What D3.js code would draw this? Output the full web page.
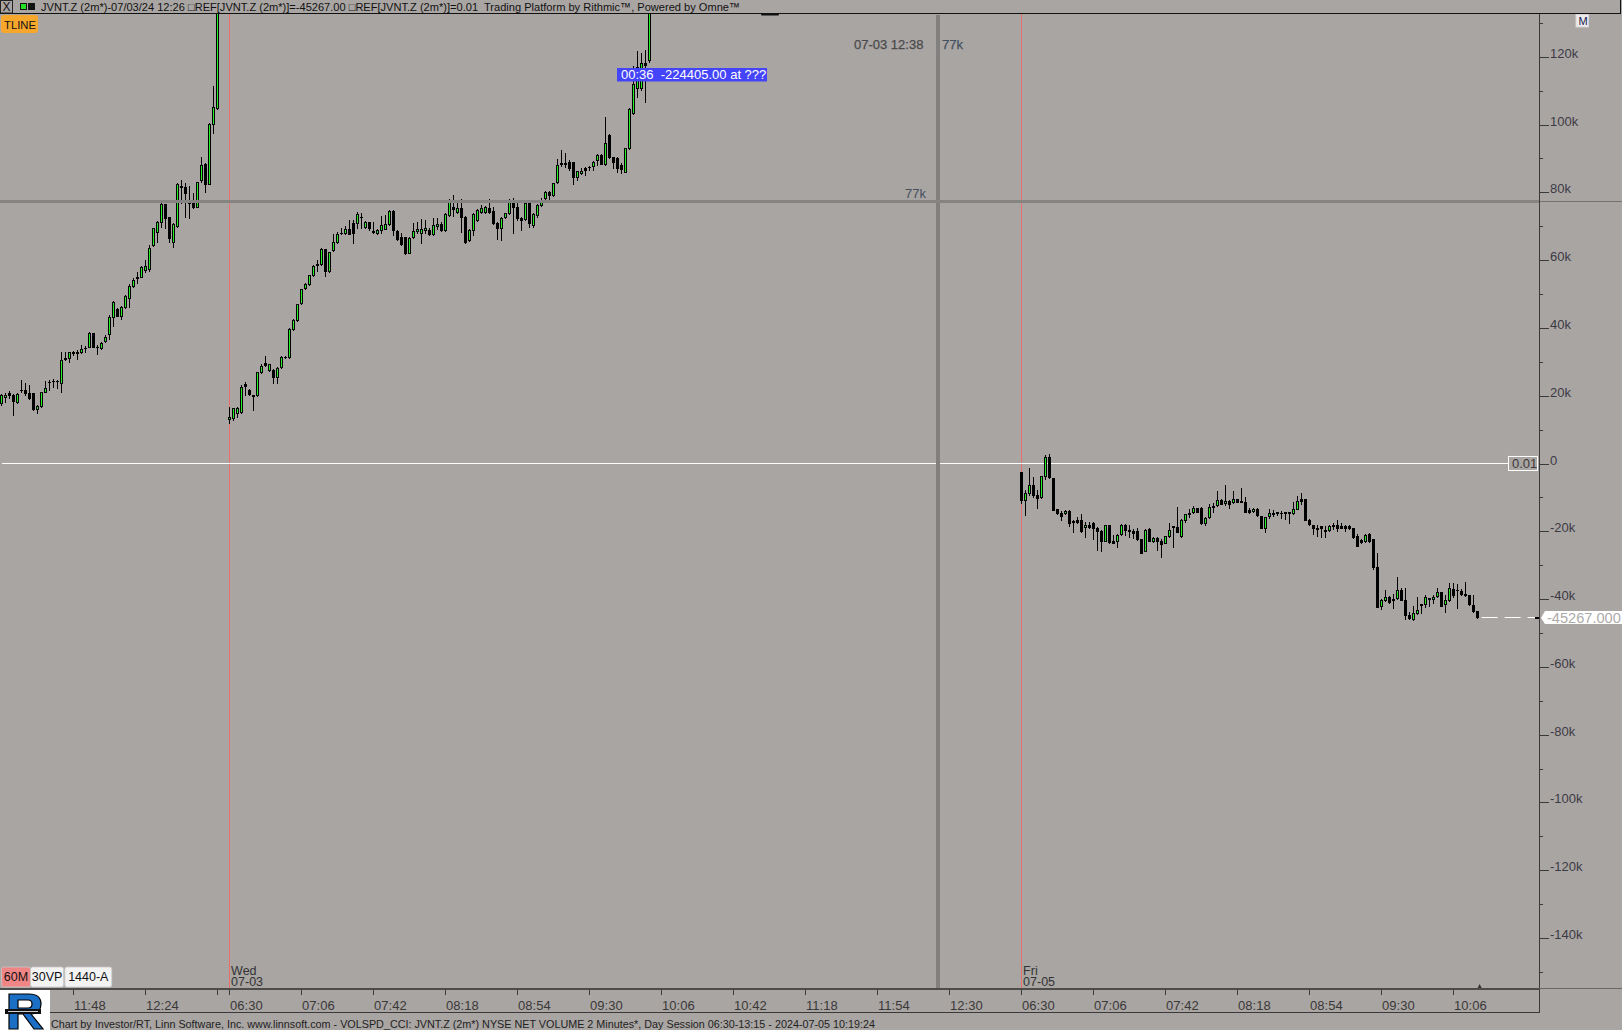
<!DOCTYPE html>
<html><head><meta charset="utf-8">
<script src="https://cdn.jsdelivr.net/npm/d3@7"></script>
<style>
html,body{margin:0;padding:0;background:#a9a5a3;overflow:hidden}
svg{display:block}
text{font-family:"Liberation Sans",Arial,sans-serif;white-space:pre}
</style></head><body>
<svg id="c" width="1622" height="1030"></svg>
<script>
// ---------- DATA (values in thousands) ----------
const sessionDays = ["07-02", "07-03", "07-05"];
const sessionOpen = "06:30";
const slotsPerSession = 198;      // 2-minute slots per session

// Tue 07-02, first visible bar 11:12  [open, high, low, close]
const tueStart = "11:12";
const tueBars = [
[17.8,20.4,17.3,20.2],[19.5,20.7,18.2,20.2],[20.7,21.4,19.2,20.2],[20.2,20.4,14.3,18.5],[18.2,20.7,17.9,20.5],
[21.7,24.6,21.2,21.6],[21.7,23.7,20.2,20.9],[20.7,23.2,18.9,19.2],[20.7,20.9,15.8,16.0],[16.0,17.3,14.8,17.0],
[17.0,21.2,16.8,21.0],[21.2,24.4,21.0,22.4],[24.0,24.6,21.7,24.1],[24.2,24.8,22.7,24.3],[24.3,24.6,22.2,24.4],
[23.9,33.0,21.2,30.5],[31.0,33.0,30.5,30.7],[31.2,33.0,30.0,32.8],[32.8,33.3,32.0,32.5],[32.8,33.5,30.7,32.7],
[32.8,34.9,32.5,33.7],[34.2,34.7,33.0,34.1],[34.5,38.9,34.3,38.4],[38.4,38.6,34.3,34.5],[34.5,34.9,32.3,34.4],
[34.2,35.9,33.8,35.7],[36.2,37.9,35.9,37.4],[38.1,43.8,36.7,43.3],[43.3,47.9,40.7,47.7],[45.6,45.8,43.4,43.6],
[43.6,46.6,42.6,46.3],[46.3,49.7,46.0,49.4],[48.7,53.1,46.3,52.4],[52.4,54.6,52.2,54.1],[54.8,56.4,53.4,54.9],
[55.1,58.4,54.9,58.1],[57.1,60.0,56.6,58.3],[57.3,64.5,56.8,63.5],[64.5,69.6,64.2,69.4],[68.4,71.5,65.4,71.3],
[71.3,77.0,69.9,76.5],[76.5,76.7,69.4,72.3],[72.6,72.8,65.4,66.6],[65.4,70.9,63.8,70.7],[70.2,82.8,69.9,82.6],
[81.8,83.6,76.8,81.5],[81.7,82.8,72.8,79.7],[77.7,81.9,72.3,76.8],[77.7,79.7,75.3,75.8],[75.8,83.1,75.6,83.1],
[83.6,90.5,83.1,88.1],[88.4,88.6,80.2,82.6],[82.6,100.5,82.4,100.2],[100.3,111.4,97.6,105.1],[104.8,150,104.5,145]
];

// Wed 07-03 from 06:30
const wedStart = "06:30";
const wedBars = [
[13.0,16.6,12.0,13.8],[13.3,16.3,12.8,16.3],[14.8,16.6,13.6,16.3],[15.1,23.2,14.8,22.7],[23.5,24.1,20.2,22.9],
[21.7,21.9,20.2,20.4],[20.1,20.1,15.8,19.9],[20.1,27.1,19.9,26.9],[27.1,29.5,26.8,28.9],[29.7,31.7,28.8,29.2],
[27.6,29.5,27.2,29.3],[27.6,27.8,23.8,25.4],[25.6,28.6,23.8,28.1],[28.4,31.7,28.1,31.5],[31.5,31.7,31.2,31.4],
[31.3,39.9,31.1,39.7],[39.7,42.7,39.4,42.4],[42.2,47.2,42.0,47.0],[47.4,51.6,47.2,51.4],[51.7,53.3,51.4,52.9],
[52.9,55.7,52.6,55.5],[55.6,58.5,55.4,58.2],[58.9,60.0,56.9,58.7],[58.8,63.6,58.6,63.4],[63.3,63.4,55.4,56.8],
[56.7,62.5,56.5,62.3],[62.9,67.7,62.7,65.4],[65.4,68.4,65.2,67.7],[67.9,69.4,67.7,67.9],[67.9,70.0,67.7,69.1],
[69.2,71.8,67.7,67.7],[71.0,71.8,65.1,68.0],[71.1,74.1,69.4,73.5],[72.8,74.0,69.4,72.6],[69.9,71.5,69.4,71.2],
[71.3,71.3,68.9,69.4],[68.7,71.3,67.9,68.2],[67.9,69.1,67.7,68.8],[68.9,73.0,67.9,70.4],[69.3,73.3,69.1,70.6],
[70.6,74.8,70.4,74.5],[74.5,74.8,67.4,68.9],[68.7,68.9,65.9,66.1],[66.9,67.9,64.4,64.9],[66.7,66.7,61.8,62.0],
[62.2,66.7,62.0,66.6],[66.7,71.0,66.4,68.6],[68.7,71.3,67.9,69.1],[68.1,72.0,65.1,69.1],[68.9,71.8,67.9,69.4],
[68.9,69.4,67.4,67.6],[67.6,72.3,67.4,70.5],[70.2,72.3,69.1,70.8],[70.8,71.3,68.7,68.9],[68.9,73.8,68.7,73.5],
[73.3,77.9,73.0,77.7],[75.6,79.2,73.0,75.0],[74.1,77.7,73.8,75.3],[75.3,77.9,68.4,72.8],[72.8,73.0,65.1,65.4],
[65.9,69.1,65.7,68.9],[68.9,73.8,67.4,73.5],[71.8,75.0,71.6,74.8],[74.1,76.3,73.8,75.3],[74.1,76.0,73.8,75.8],
[75.3,77.9,73.8,74.1],[74.6,75.8,70.8,71.0],[71.0,71.3,66.1,69.4],[69.4,72.6,65.9,72.3],[72.6,74.0,72.3,73.8],
[73.8,77.9,73.5,77.1],[77.7,78.2,67.9,75.6],[75.6,76.8,71.8,72.3],[72.3,72.8,68.9,71.8],[72.0,77.2,71.8,77.0],
[76.8,77.0,69.9,71.0],[70.4,73.8,69.9,73.6],[73.3,76.6,72.8,76.3],[76.3,78.3,76.0,77.3],[78.4,80.3,78.0,80.1],
[80.2,80.5,78.0,79.2],[79.2,82.8,78.9,82.7],[83.1,89.7,82.8,88.1],[88.7,92.5,87.9,88.3],[88.6,91.7,87.6,88.5],
[88.9,89.5,86.6,87.1],[88.9,89.0,82.4,84.6],[84.6,86.4,83.6,86.2],[85.8,87.1,85.4,86.4],[87.1,87.6,85.1,86.6],
[87.6,87.8,86.6,87.4],[87.9,89.3,86.6,89.0],[89.5,91.3,88.1,91.0],[91.0,91.3,88.3,88.4],[88.4,102.1,88.1,94.5],
[96.9,97.1,90.0,90.3],[90.3,90.5,87.1,89.0],[90.0,90.3,86.1,87.1],[88.2,88.6,85.6,87.0],[86.1,93.2,85.9,93.0],
[93.0,104.8,92.7,104.5],[103.3,117.3,103.1,112.1],[110.7,121.8,108.2,117.1],[110.7,121.0,110.2,118.3],[118.3,122.0,106.7,117.5],
[119.0,160,118.5,155]
];

// Fri 07-05 from 06:30
const friStart = "06:30";
const friBars = [
[-2.5,-2.5,-11.6,-10.8],[-10.8,-7.8,-15.2,-8.8],[-8.8,-1.4,-9.3,-6.3],[-6.3,-4.1,-9.8,-9.3],[-9.3,-7.8,-13.2,-10.1],
[-10.0,-3.7,-10.3,-3.7],[-3.7,2.5,-4.7,1.8],[1.8,2.8,-4.4,-4.1],[-4.4,-4.4,-13.7,-13.7],[-13.5,-13.5,-14.9,-14.7],
[-14.7,-14.0,-16.7,-15.4],[-14.7,-13.7,-14.9,-14.0],[-14.0,-13.7,-18.4,-17.6],[-17.1,-16.7,-20.1,-17.4],[-16.7,-15.7,-17.6,-17.2],
[-16.7,-14.9,-20.1,-19.8],[-18.8,-17.2,-21.6,-18.2],[-18.0,-17.2,-19.1,-18.6],[-17.6,-17.2,-22.3,-19.1],[-19.1,-18.8,-25.5,-19.8],
[-19.9,-19.6,-25.7,-22.8],[-23.0,-18.1,-23.0,-18.2],[-18.1,-18.1,-23.5,-23.3],[-22.9,-21.1,-23.5,-23.4],[-23.0,-20.9,-24.5,-21.2],
[-20.9,-17.9,-21.1,-18.2],[-18.2,-17.8,-21.1,-19.6],[-19.6,-18.1,-21.6,-19.9],[-19.8,-19.2,-21.9,-20.4],[-19.8,-19.1,-22.6,-22.2],
[-22.4,-22.4,-26.5,-26.5],[-25.7,-19.4,-25.8,-19.6],[-19.4,-19.1,-22.8,-22.8],[-22.8,-21.8,-23.1,-22.1],[-22.1,-21.8,-25.5,-23.0],
[-22.9,-22.4,-27.5,-23.7],[-23.4,-21.3,-23.5,-21.5],[-21.4,-17.6,-21.8,-19.6],[-18.4,-18.4,-24.5,-18.8],[-18.6,-12.7,-20.3,-20.1],
[-21.3,-16.3,-21.6,-16.7],[-16.7,-14.9,-17.4,-15.0],[-14.5,-13.4,-15.7,-14.9],[-14.4,-12.4,-14.5,-13.2],[-13.2,-13.2,-14.2,-14.2],
[-13.0,-12.7,-17.8,-17.6],[-17.6,-15.7,-18.1,-16.2],[-15.9,-12.0,-16.1,-12.9],[-12.4,-11.7,-14.2,-12.7],[-12.3,-8.0,-12.5,-10.9],
[-10.8,-10.6,-11.9,-11.9],[-11.7,-6.3,-12.2,-11.2],[-11.0,-10.8,-13.2,-12.0],[-11.5,-8.1,-11.7,-10.6],[-10.6,-10.5,-11.5,-11.4],
[-11.2,-7.3,-11.4,-11.3],[-11.3,-9.8,-14.2,-14.2],[-13.8,-13.2,-14.7,-14.2],[-14.1,-13.0,-14.2,-13.3],[-13.5,-13.2,-15.5,-15.2],
[-15.5,-15.5,-19.1,-19.0],[-18.9,-15.7,-20.1,-15.9],[-15.5,-13.5,-16.2,-14.5],[-14.5,-13.7,-15.5,-15.0],[-14.4,-14.2,-15.2,-14.6],
[-14.5,-13.9,-16.2,-14.7],[-14.4,-14.4,-16.5,-14.5],[-14.4,-14.4,-17.5,-14.5],[-14.7,-11.3,-15.0,-13.5],[-13.3,-9.6,-13.5,-11.0],
[-10.5,-8.8,-11.8,-11.0],[-10.5,-10.5,-16.7,-16.7],[-16.7,-16.5,-18.1,-17.9],[-18.1,-18.1,-20.8,-18.9],[-19.0,-18.1,-21.3,-19.3],
[-18.4,-18.4,-21.6,-18.9],[-19.6,-18.4,-21.6,-20.0],[-19.6,-18.1,-19.9,-18.4],[-18.2,-17.5,-19.4,-18.3],[-18.1,-16.7,-19.9,-18.9],
[-18.4,-17.6,-19.1,-18.9],[-18.4,-18.2,-19.8,-18.9],[-18.4,-18.2,-19.2,-18.9],[-19.1,-19.1,-22.1,-21.6],[-21.4,-20.8,-24.3,-24.2],
[-22.7,-22.2,-23.5,-23.3],[-22.9,-20.8,-23.1,-21.1],[-20.8,-20.4,-23.1,-22.9],[-22.4,-22.4,-31.0,-30.6],[-30.5,-26.3,-42.2,-42.2],
[-41.9,-40.1,-42.9,-40.4],[-40.4,-37.3,-40.6,-39.4],[-39.4,-39.1,-41.2,-40.8],[-39.9,-38.6,-42.7,-40.4],[-39.8,-33.6,-40.1,-37.3],
[-37.3,-36.8,-40.4,-40.3],[-40.3,-36.8,-45.8,-44.7],[-44.7,-43.7,-45.8,-45.7],[-46.0,-42.0,-46.2,-44.0],[-44.0,-39.3,-44.4,-43.2],
[-41.5,-41.5,-44.2,-41.7],[-41.5,-38.8,-42.2,-39.3],[-39.6,-39.6,-42.0,-40.0],[-40.1,-38.9,-41.2,-39.3],[-39.1,-36.8,-39.5,-37.9],
[-37.9,-37.8,-42.0,-41.9],[-41.5,-38.8,-43.7,-40.3],[-40.3,-35.3,-40.5,-36.7],[-37.0,-35.3,-39.3,-38.8],[-37.3,-35.6,-42.7,-37.4],
[-37.6,-37.1,-38.8,-38.4],[-38.6,-35.05,-39.0,-38.8],[-38.8,-38.7,-41.7,-41.5],[-41.7,-38.8,-43.8,-43.5],[-43.5,-43.5,-45.5,-45.267]
];

const lastValue = -45267.000;
const refValue = 0.01;
const cursorValue = 77.4;          // horizontal crosshair (k)
const cursorSlot = 375.3;          // vertical crosshair slot
const yMajorTicks = [120,100,80,60,40,20,0,-20,-40,-60,-80,-100,-120,-140];
const yMinorTicks = [130,110,90,70,50,30,10,-10,-30,-50,-70,-90,-110,-130,-150];
// x ticks: [session index, time, show label]
const xTicks = [[0,"11:48",1],[0,"12:24",1],[0,"13:00",0],
  [1,"06:30",1],[1,"07:06",1],[1,"07:42",1],[1,"08:18",1],[1,"08:54",1],[1,"09:30",1],[1,"10:06",1],[1,"10:42",1],[1,"11:18",1],[1,"11:54",1],[1,"12:30",1],
  [2,"06:30",1],[2,"07:06",1],[2,"07:42",1],[2,"08:18",1],[2,"08:54",1],[2,"09:30",1],[2,"10:06",1]];
const dayLabels = [[1,"Wed","07-03"],[2,"Fri","07-05"]];

const titleText = "JVNT.Z (2m*)-07/03/24 12:26 \u25A1REF[JVNT.Z (2m*)]=-45267.00 \u25A1REF[JVNT.Z (2m*)]=0.01  Trading Platform by Rithmic\u2122, Powered by Omne\u2122";
const footerText = "Chart by Investor/RT, Linn Software, Inc. www.linnsoft.com - VOLSPD_CCI: JVNT.Z (2m*) NYSE NET VOLUME 2 Minutes*, Day Session 06:30-13:15 - 2024-07-05 10:19:24";

// ---------- helpers ----------
const toMin = t => { const [h,m] = t.split(":").map(Number); return h*60+m; };
const slotOf = (day, t) => day*slotsPerSession + (toMin(t) - toMin(sessionOpen))/2;

const W = 1622, H = 1030;
const plotRight = 1539, plotTop = 14, plotBottom = 989;
const svg = d3.select("#c");
const BG = "#a9a5a3";
svg.append("rect").attr("width",W).attr("height",H).attr("fill",BG);

const x = d3.scaleLinear().domain([slotOf(1,"06:30"), slotOf(2,"06:30")]).range([228.6, 1020.6]);
const y = d3.scaleLinear().domain([-140,120]).range([938,56.8]);

// clip
svg.append("clipPath").attr("id","plotclip").append("rect")
  .attr("x",0).attr("y",plotTop).attr("width",plotRight).attr("height",plotBottom-plotTop);

const plot = svg.append("g").attr("clip-path","url(#plotclip)").attr("shape-rendering","crispEdges");

// session lines
dayLabels.forEach(d=>{
  const sx = Math.round(x(slotOf(d[0],sessionOpen)));
  plot.append("rect").attr("x",sx).attr("y",plotTop).attr("width",1).attr("height",plotBottom-plotTop).attr("fill","#ea6f6c");
});

// zero reference line
plot.append("rect").attr("x",2).attr("y",Math.round(y(refValue))).attr("width",1508-2).attr("height",1).attr("fill","#ffffff");

// vertical cursor
plot.append("rect").attr("x",Math.round(x(cursorSlot))-2).attr("y",15).attr("width",4).attr("height",plotBottom-15).attr("fill","#82807e");

// candles
const GREEN = "#24f224";
function drawBars(bars, day, start){
  const s0 = slotOf(day, start);
  const g = plot.append("g");
  bars.forEach((b,i)=>{
    const [o,h,l,c] = b;
    const cx = Math.round(x(s0+i));
    const yh = Math.round(y(h)), yl = Math.round(y(l));
    const yt = Math.round(y(Math.max(o,c))), yb = Math.round(y(Math.min(o,c)));
    g.append("rect").attr("x",cx).attr("y",yh).attr("width",1).attr("height",Math.max(1,yl-yh+1)).attr("fill","#000");
    g.append("rect").attr("x",cx-1).attr("y",yt).attr("width",3).attr("height",Math.max(1,yb-yt+1)).attr("fill","#000");
    if (c > o && yb-yt >= 2)
      g.append("rect").attr("x",cx).attr("y",yt+1).attr("width",1).attr("height",yb-yt-1).attr("fill",GREEN);
  });
}
drawBars(tueBars, 0, tueStart);
drawBars(wedBars, 1, wedStart);
drawBars(friBars, 2, friStart);

// horizontal cursor
const cy = Math.round(y(cursorValue));
plot.append("rect").attr("x",0).attr("y",cy-1).attr("width",plotRight).attr("height",3).attr("fill","#868482");
svg.append("rect").attr("x",plotRight).attr("y",cy).attr("width",W-plotRight).attr("height",1).attr("fill","#74716f");

// last value dashed line
const ly = Math.round(y(lastValue/1000));
const lastX = x(slotOf(2,friStart)+friBars.length-1);
svg.append("line").attr("x1",lastX+5).attr("x2",1535).attr("y1",ly+0.5).attr("y2",ly+0.5)
  .attr("stroke","#fff").attr("stroke-width",1.2).attr("stroke-dasharray","16,7");
svg.append("rect").attr("x",1535).attr("y",ly).attr("width",4).attr("height",2).attr("fill","#000");

// ref label box
svg.append("rect").attr("x",1508.5).attr("y",y(refValue)-7).attr("width",29).attr("height",14)
  .attr("fill","none").attr("stroke","#fff").attr("stroke-width",1);
svg.append("text").attr("x",1512).attr("y",y(refValue)+4.5).attr("font-size",13).attr("fill","#3c3a3a").text(refValue.toFixed(2));

// ---------- y axis ----------
const yAxisG = svg.append("g").attr("transform",`translate(${plotRight},0)`);
yAxisG.call(d3.axisRight(y).tickValues(yMajorTicks).tickSize(10).tickFormat(d => d===0 ? "0" : d+"k"));
yAxisG.select(".domain").remove();
yAxisG.selectAll("line").attr("stroke","#3a3a3a").attr("shape-rendering","crispEdges");
yAxisG.selectAll("text").attr("x",11).attr("dy","0").attr("y",0.5)
  .attr("font-family","Liberation Sans, Arial").attr("font-size",13).attr("fill","#3c3a44");
const yMinorG = svg.append("g").attr("transform",`translate(${plotRight},0)`);
yMinorG.call(d3.axisRight(y).tickValues(yMinorTicks).tickSize(4).tickFormat(""));
yMinorG.select(".domain").remove();
yMinorG.selectAll("line").attr("stroke","#3a3a3a").attr("shape-rendering","crispEdges");
svg.append("rect").attr("x",plotRight).attr("y",13).attr("width",1).attr("height",1013-13).attr("fill","#3a3838");

// last value label
svg.append("path").attr("d",`M1541,${ly+1} L1545,${ly-6} L1622,${ly-6} L1622,${ly+7} L1545,${ly+7} Z`).attr("fill","#fff");
svg.append("text").attr("x",1547).attr("y",ly+6).attr("font-size",14.6).attr("fill","#aeaaa8").text(lastValue.toFixed(3));

// ---------- x axis ----------
svg.append("rect").attr("x",0).attr("y",988).attr("width",plotRight).attr("height",2).attr("fill","#4e4c4b");
svg.append("rect").attr("x",plotRight).attr("y",988).attr("width",W-plotRight).attr("height",1).attr("fill","#6a6867");
svg.append("rect").attr("x",0).attr("y",1012).attr("width",plotRight+1).attr("height",1).attr("fill","#3a3838");
const xAxisG = svg.append("g").attr("transform","translate(0,990)");
const tickSlots = xTicks.map(t => slotOf(t[0], t[1]));
const tickLab = new Map(xTicks.map(t => [slotOf(t[0],t[1]), t[2] ? t[1] : ""]));
xAxisG.call(d3.axisBottom(x).tickValues(tickSlots).tickSize(5).tickFormat(d => tickLab.get(d)));
xAxisG.select(".domain").remove();
xAxisG.selectAll("line").attr("stroke","#3a3a3a").attr("shape-rendering","crispEdges")
  .attr("transform","translate(0.5,0)");
xAxisG.selectAll("text").attr("text-anchor","start").attr("x",1).attr("y",20).attr("dy","0")
  .attr("font-family","Liberation Sans, Arial").attr("font-size",13).attr("fill","#3a3838");

// day labels
dayLabels.forEach(d=>{
  const sx = x(slotOf(d[0],sessionOpen)) + 2.5;
  svg.append("text").attr("x",sx).attr("y",975).attr("font-size",12.5).attr("fill","#333").text(d[1]);
  svg.append("text").attr("x",sx).attr("y",986).attr("font-size",12.5).attr("fill","#333").text(d[2]);
});

// last bar marker
svg.append("path").attr("d",`M${lastX-1},983 L${lastX+3},983 L${lastX+1},979 Z`)
  .attr("transform","translate(2,5)").attr("fill","#333");

// ---------- annotations ----------
svg.append("text").attr("x",854).attr("y",48.5).attr("font-family","DejaVu Sans").attr("font-size",13)
  .attr("fill","#4a4a4c").attr("stroke","#4a4a4c").attr("stroke-width",0.25).text("07-03 12:38");
svg.append("text").attr("x",942).attr("y",48.5).attr("font-family","DejaVu Sans").attr("font-size",13)
  .attr("fill","#44505e").attr("stroke","#44505e").attr("stroke-width",0.25).text(Math.round(cursorValue)+"k");
svg.append("text").attr("x",905).attr("y",198).attr("font-family","DejaVu Sans").attr("font-size",13)
  .attr("fill","#44505e").text(Math.round(cursorValue)+"k");

svg.append("rect").attr("x",617).attr("y",68).attr("width",150).attr("height",13.5).attr("fill","#4444f8");
svg.append("text").attr("x",621).attr("y",79).attr("font-size",13).attr("fill","#fff").text("00:36  -224405.00 at ???");

// top small mark
svg.append("rect").attr("x",761).attr("y",13).attr("width",18).attr("height",2.5).attr("rx",1).attr("fill","#111");

// ---------- title bar ----------
svg.append("rect").attr("x",0).attr("y",13).attr("width",1621).attr("height",1).attr("fill","#111");
svg.append("rect").attr("x",1620).attr("y",0).attr("width",1).attr("height",14).attr("fill","#111");
svg.append("rect").attr("x",0.5).attr("y",0.5).attr("width",12).attr("height",12.5).attr("fill","none").attr("stroke","#222");
svg.append("text").attr("x",2.5).attr("y",11).attr("font-size",12).attr("fill","#111").text("X");
svg.append("rect").attr("x",20.5).attr("y",3.5).attr("width",6).attr("height",6).attr("fill","#22e022").attr("stroke","#111");
svg.append("rect").attr("x",28.5).attr("y",3.5).attr("width",6).attr("height",6).attr("fill","#111").attr("stroke","#111");
svg.append("text").attr("x",41).attr("y",10.5).attr("font-size",11.5).attr("fill","#111")
  .attr("textLength",699).attr("lengthAdjust","spacingAndGlyphs").text(titleText);

// TLINE
svg.append("rect").attr("x",1).attr("y",15).attr("width",37).attr("height",18).attr("rx",3).attr("fill","#f7a72c");
svg.append("text").attr("x",4).attr("y",28.5).attr("font-size",11.5).attr("fill","#111")
  .attr("textLength",32).attr("lengthAdjust","spacingAndGlyphs").text("TLINE");

// M box
svg.append("rect").attr("x",1576).attr("y",14.5).attr("width",12.5).attr("height",12.5).attr("fill","#ecebeb").attr("stroke","#d8d6d6");
svg.append("text").attr("x",1578.5).attr("y",24.5).attr("font-size",11).attr("fill","#1a1a50").text("M");

// bottom buttons
const buttons = [["60M",1.5,29,"#f08585"],["30VP",30.6,33,"#f3f3f3"],["1440-A",64.8,47,"#f3f3f3"]];
buttons.forEach(b=>{
  svg.append("rect").attr("x",b[1]).attr("y",967).attr("width",b[2]).attr("height",20).attr("rx",2)
    .attr("fill",b[3]).attr("stroke","#c8c6c6").attr("stroke-width",0.8);
  svg.append("text").attr("x",b[1]+b[2]/2).attr("y",981).attr("text-anchor","middle").attr("font-size",12.5).attr("fill","#111").text(b[0]);
});

// logo (graphic R)
svg.append("rect").attr("x",0).attr("y",990).attr("width",50).attr("height",40).attr("fill","#fff");
svg.append("path")
  .attr("d","M9,994 H29 Q41,994 41,1004 Q41,1013 31,1014 L43,1029 H34 L23,1014 H18 V1029 H9 Z M18,1000 H28 Q32,1000 32,1004 Q32,1008 28,1008 H18 Z")
  .attr("fill-rule","evenodd").attr("fill","#1b6fc4").attr("stroke","#000").attr("stroke-width",1.2);
svg.append("rect").attr("x",5).attr("y",1009).attr("width",36).attr("height",5).attr("fill","#111");
svg.append("rect").attr("x",8).attr("y",1011).attr("width",30).attr("height",1).attr("fill","#cfcfcf");

// footer
svg.append("text").attr("x",51).attr("y",1028).attr("font-size",11.5).attr("fill","#222")
  .attr("textLength",824).attr("lengthAdjust","spacingAndGlyphs").text(footerText);
</script>
</body></html>
